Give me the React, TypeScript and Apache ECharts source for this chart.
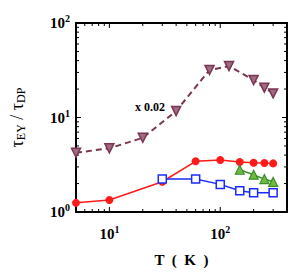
import React, { useEffect, useRef } from "react";
import * as echarts from "echarts";

const tempBrown = [5, 10, 20, 40, 80, 120, 200, 250, 300];
const valBrown = [4.24, 4.72, 6.1, 11.7, 31.8, 35, 24.9, 20.7, 18.0];
const tempRed = [5, 10, 30, 60, 100, 150, 200, 250, 300];
const valRed = [1.25, 1.34, 2.09, 3.44, 3.55, 3.38, 3.32, 3.3, 3.27];
const tempBlue = [30, 60, 100, 150, 200, 300];
const valBlue = [2.23, 2.23, 1.96, 1.68, 1.6, 1.6];
const tempGreen = [150, 200, 250, 300];
const valGreen = [2.8, 2.48, 2.23, 2.08];

const xMajorTicks = [10, 100];
const xMinorTicks = [6, 7, 8, 9, 20, 30, 40, 50, 60, 70, 80, 90, 200, 300];
const yMajorTicks = [10];
const yMinorTicks = [2, 3, 4, 5, 6, 7, 8, 9, 20, 30, 40, 50, 60, 70, 80, 90];

const SERIF = "'Liberation Serif', 'DejaVu Serif', serif";

const powLabel = (v: number) => {
  const e = Math.log10(v);
  const r = Math.round(e);
  if (Math.abs(e - r) > 1e-6) return "";
  return `{b|10}{s|${r}}`;
};

const richPow = {
  b: { fontSize: 15, fontWeight: "bold", fontFamily: SERIF, color: "#000" },
  s: { fontSize: 10, fontWeight: "bold", fontFamily: SERIF, color: "#000", padding: [0, 0, 9, 0] },
};

export default function App() {
  const ref = useRef<HTMLDivElement>(null);
  useEffect(() => {
    if (!ref.current) return;
    const chart = echarts.init(ref.current, null, { renderer: "svg" });
    const brown = "#7a3553";
    const axisCommon = {
      axisLine: { show: true, onZero: false, lineStyle: { color: "#000", width: 2 } },
      axisTick: { show: false },
      splitLine: { show: false },
      minorTick: { show: false },
    };
    const xTickData = [
      ...xMajorTicks.map((v) => [v, 1, 5]),
      ...xMinorTicks.map((v) => [v, 1, 3]),
    ];
    const yTickData = [
      ...yMajorTicks.map((v) => [5, v, 5]),
      ...yMinorTicks.map((v) => [5, v, 3]),
    ];
    chart.setOption({
      animation: false,
      grid: { left: 76, right: 16, top: 23, bottom: 61 },
      xAxis: [
        {
          type: "log",
          logBase: 10,
          min: 5,
          max: 400,
          position: "bottom",
          ...axisCommon,
          axisLabel: {
            formatter: powLabel,
            rich: richPow,
            margin: 12,
            showMinLabel: false,
            showMaxLabel: false,
          },
          name: "T  (  K  )",
          nameLocation: "middle",
          nameGap: 40,
          nameTextStyle: { fontSize: 15, fontWeight: "bold", fontFamily: SERIF, color: "#000" },
        },
        {
          type: "log",
          logBase: 10,
          min: 5,
          max: 400,
          position: "top",
          ...axisCommon,
          axisLabel: { show: false },
        },
      ],
      yAxis: [
        {
          type: "log",
          logBase: 10,
          min: 1,
          max: 100,
          position: "left",
          ...axisCommon,
          axisLabel: { formatter: powLabel, rich: richPow, margin: 6 },
          name: "{t|τ}{u|EY}{t| / τ}{u|DP}",
          nameLocation: "middle",
          nameGap: 49,
          nameRotate: 90,
          nameTextStyle: {
            rich: {
              t: { fontSize: 18, fontFamily: SERIF, color: "#000" },
              u: { fontSize: 12, fontFamily: SERIF, color: "#000", padding: [8, 0, 0, 0] },
            },
          },
        },
        {
          type: "log",
          logBase: 10,
          min: 1,
          max: 100,
          position: "right",
          ...axisCommon,
          axisLabel: { show: false },
        },
      ],
      graphic: [
        {
          type: "text",
          x: 150,
          y: 107,
          style: {
            text: "x 0.02",
            fontSize: 12,
            fontWeight: "bold",
            fontFamily: SERIF,
            fill: "#000",
            textAlign: "center",
            textVerticalAlign: "middle",
          },
        },
      ],
      series: [
        {
          type: "custom",
          silent: true,
          xAxisIndex: 0,
          yAxisIndex: 0,
          data: xTickData,
          clip: false,
          renderItem: (params: any, api: any) => {
            const cs = params.coordSys;
            const p = api.coord([api.value(0), 10]);
            const len = api.value(2);
            const style = { stroke: "#000", lineWidth: 1 };
            return {
              type: "group",
              children: [
                { type: "line", shape: { x1: p[0], y1: cs.y + cs.height, x2: p[0], y2: cs.y + cs.height - len }, style },
                { type: "line", shape: { x1: p[0], y1: cs.y, x2: p[0], y2: cs.y + len }, style },
              ],
            };
          },
        },
        {
          type: "custom",
          silent: true,
          xAxisIndex: 0,
          yAxisIndex: 0,
          data: yTickData,
          clip: false,
          renderItem: (params: any, api: any) => {
            const cs = params.coordSys;
            const p = api.coord([10, api.value(1)]);
            const len = api.value(2);
            const style = { stroke: "#000", lineWidth: 1 };
            return {
              type: "group",
              children: [
                { type: "line", shape: { x1: cs.x, y1: p[1], x2: cs.x + len, y2: p[1] }, style },
                { type: "line", shape: { x1: cs.x + cs.width, y1: p[1], x2: cs.x + cs.width - len, y2: p[1] }, style },
              ],
            };
          },
        },
        {
          type: "line",
          data: tempBrown.map((t, i) => [t, valBrown[i]]),
          lineStyle: { color: brown, width: 2, type: [6, 4] },
          symbol: "triangle",
          symbolRotate: 180,
          symbolSize: 9,
          itemStyle: { color: "#a06a82", borderColor: brown, borderWidth: 1.5 },
        },
        {
          type: "line",
          data: tempRed.map((t, i) => [t, valRed[i]]),
          lineStyle: { color: "#ff1a1a", width: 1.5 },
          symbol: "circle",
          symbolSize: 8,
          itemStyle: { color: "#ff1a1a", borderColor: "#ff1a1a", borderWidth: 0 },
        },
        {
          type: "line",
          data: tempBlue.map((t, i) => [t, valBlue[i]]),
          lineStyle: { color: "#1a2bff", width: 1.5 },
          symbol: "rect",
          symbolSize: 8,
          itemStyle: { color: "#ffffff", borderColor: "#1a2bff", borderWidth: 1.5 },
        },
        {
          type: "line",
          data: tempGreen.map((t, i) => [t, valGreen[i]]),
          lineStyle: { color: "#3a8f2a", width: 1.5 },
          symbol: "triangle",
          symbolSize: 9,
          itemStyle: { color: "#6fba3f", borderColor: "#3a8f2a", borderWidth: 1.2 },
        },
      ],
    });
    return () => chart.dispose();
  }, []);
  return (
    <div
      ref={ref}
      style={{ position: "absolute", left: 0, top: 0, width: 303, height: 273, background: "#fff" }}
    />
  );
}
